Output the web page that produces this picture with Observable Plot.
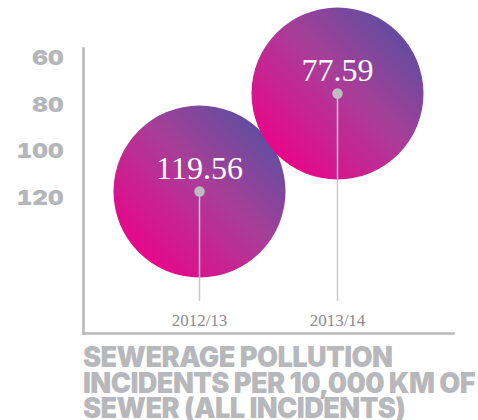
<!DOCTYPE html>
<html>
<head>
<meta charset="utf-8">
<script src="https://cdn.jsdelivr.net/npm/d3@7"></script>
<script src="https://cdn.jsdelivr.net/npm/@observablehq/plot@0.6"></script>
<style>
  html, body { margin: 0; padding: 0; background: #fff; }
  #wrap { width: 478px; height: 420px; position: relative; overflow: hidden; }
  #title {
    position: absolute; left: 83px; top: 345px;
    font-family: Inter, Roboto, "DejaVu Sans", sans-serif; font-weight: 900;
    font-size: 28px; line-height: 25.5px; color: #b7b8bb; letter-spacing: -0.6px;
    white-space: nowrap; transform-origin: 0 0;
  }
  #title span { display: block; }
</style>
</head>
<body>
<div id="wrap">
  <div id="chart"></div>
  <div id="title"><span>SEWERAGE POLLUTION</span><span>INCIDENTS PER 10,000 KM OF</span><span>SEWER (ALL INCIDENTS)</span></div>
</div>
<script>
const years = ["2012/13", "2013/14"];
const values = [119.56, 77.59];
const valueLabels = ["119.56", "77.59"];
const yTicks = [60, 80, 100, 120];

const yDomain = [58.32, 180.37];
const data = years.map((year, i) => ({year, value: values[i], label: valueLabels[i], base: yDomain[1]}));

const grey = "#b8b9bc";

const chart = Plot.plot({
  width: 478,
  height: 338,
  marginLeft: 83,
  marginRight: 25,
  marginTop: 48,
  marginBottom: 5,
  style: {background: "transparent"},
  x: {type: "point", domain: years, padding: 0.84, axis: null},
  y: {domain: yDomain, reverse: true, axis: null, label: null},
  marks: [
    Plot.dot(data, {x: "year", y: "value", r: 86, fill: "url(#bubbleGrad)", stroke: "none"}),
    Plot.ruleX(data, {x: "year", y1: "value", y2: "base", stroke: "#c9c9cc", strokeWidth: 1.5, insetBottom: 32}),
    Plot.dot(data, {x: "year", y: "value", r: 5.2, fill: "#bdbdc0", stroke: "none"}),
    Plot.text(data, {x: "year", y: "value", text: "label", dy: -23, fill: "#fff",
      fontSize: 32, fontFamily: "'Liberation Serif', 'DejaVu Serif', serif", lineAnchor: "middle"}),
    Plot.text(data, {x: "year", text: "year", frameAnchor: "bottom", dy: -13, lineAnchor: "middle",
      fill: "#8c8c8f", fontSize: 17, fontFamily: "'Liberation Serif', 'DejaVu Serif', serif"}),
    Plot.axisY({ticks: yTicks, tickSize: 0, tickPadding: 20, dy: 6, fill: "#b5b6b9", label: null,
      fontSize: 20.5, fontWeight: 900, fontFamily: "Inter, Roboto, 'DejaVu Sans', sans-serif", textStroke: "none"}),
    Plot.frame({anchor: "left", stroke: grey, strokeWidth: 2.6}),
    Plot.frame({anchor: "bottom", stroke: grey, strokeWidth: 2.6})
  ]
});

// stretch the heavy tick digits to the reference's extended width
chart.querySelectorAll("[aria-label='y-axis tick label'] text").forEach(t => {
  const n = t.textContent.length;
  t.setAttribute("textLength", n * 15.6);
  t.setAttribute("lengthAdjust", "spacingAndGlyphs");
});

// gradient definition for the bubbles
const defs = d3.create("svg:defs");
const grad = defs.append("linearGradient")
  .attr("id", "bubbleGrad")
  .attr("x1", 0).attr("y1", 1).attr("x2", 1).attr("y2", 0);
grad.append("stop").attr("offset", "0.12").attr("stop-color", "#ec0389");
grad.append("stop").attr("offset", "0.55").attr("stop-color", "#a83e98");
grad.append("stop").attr("offset", "0.92").attr("stop-color", "#5450a0");
chart.insertBefore(defs.node(), chart.firstChild);

document.getElementById("chart").appendChild(chart);

// fit title width to the reference (widest line ≈ 394px)
const title = document.getElementById("title");
let maxW = 0;
title.querySelectorAll("span").forEach(s => {
  const r = document.createRange(); r.selectNodeContents(s);
  maxW = Math.max(maxW, r.getBoundingClientRect().width);
});
if (maxW > 0) title.style.transform = `scaleX(${392 / maxW})`;
</script>
</body>
</html>
